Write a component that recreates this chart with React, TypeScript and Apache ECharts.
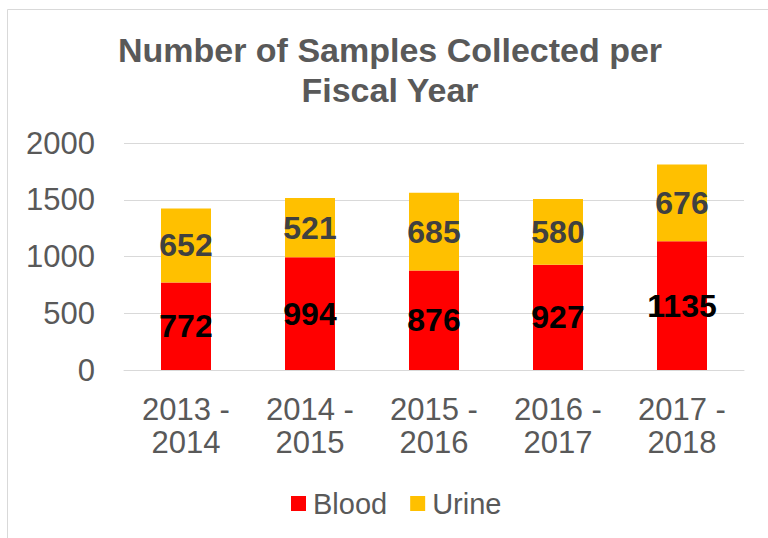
import React, { useEffect, useRef } from "react";
import * as echarts from "echarts";

const categories = ["2013 -\n2014", "2014 -\n2015", "2015 -\n2016", "2016 -\n2017", "2017 -\n2018"];
const bloodValues = [772, 994, 876, 927, 1135];
const urineValues = [652, 521, 685, 580, 676];
const titleText = "Number of Samples Collected per\nFiscal Year";
const FONT = "'Liberation Sans', Arial, sans-serif";

export default function App() {
  const ref = useRef<HTMLDivElement>(null);
  useEffect(() => {
    const chart = echarts.init(ref.current!, null, { renderer: "svg" });
    chart.setOption({
      animation: false,
      backgroundColor: "#ffffff",
      textStyle: { fontFamily: FONT },
      title: {
        text: titleText,
        left: 390,
        top: 30,
        textAlign: "center",
        padding: 0,
        textStyle: {
          fontFamily: FONT,
          fontSize: 34,
          fontWeight: "bold",
          color: "#595959",
          lineHeight: 40,
        },
      },
      graphic: [
        {
          type: "rect",
          shape: { x: 7.5, y: 9.5, width: 800, height: 600 },
          style: { fill: "none", stroke: "#d9d9d9", lineWidth: 1 },
          silent: true,
        },
      ],
      legend: {
        left: 291,
        top: 489,
        padding: 0,
        itemWidth: 15,
        itemHeight: 15,
        itemGap: 23,
        icon: "rect",
        textStyle: { fontFamily: FONT, fontSize: 29, color: "#595959", padding: [0, 0, 0, 2] },
        data: ["Blood", "Urine"],
      },
      grid: { left: 124, right: 24, top: 143, bottom: 168 },
      xAxis: {
        type: "category",
        data: categories,
        axisLine: { lineStyle: { color: "#d9d9d9", width: 1 } },
        axisTick: { show: false },
        axisLabel: {
          fontFamily: FONT,
          fontSize: 31,
          color: "#595959",
          lineHeight: 33,
          margin: 23,
        },
      },
      yAxis: {
        type: "value",
        min: 0,
        max: 2000,
        interval: 500,
        axisLine: { show: false },
        axisTick: { show: false },
        splitLine: { lineStyle: { color: "#d9d9d9", width: 1 } },
        axisLabel: {
          fontFamily: FONT,
          fontSize: 31,
          color: "#595959",
          margin: 29,
          formatter: (v: number) => String(v),
        },
      },
      series: [
        {
          name: "Blood",
          type: "bar",
          stack: "total",
          barWidth: 50,
          data: bloodValues,
          itemStyle: { color: "#ff0000" },
          label: {
            show: true,
            position: "inside",
            fontFamily: FONT,
            fontSize: 32,
            fontWeight: "bold",
            color: "#000000",
          },
        },
        {
          name: "Urine",
          type: "bar",
          stack: "total",
          barWidth: 50,
          data: urineValues,
          itemStyle: { color: "#ffc000" },
          label: {
            show: true,
            position: "inside",
            fontFamily: FONT,
            fontSize: 32,
            fontWeight: "bold",
            color: "#404040",
          },
        },
      ],
    });
    return () => chart.dispose();
  }, []);
  return (
    <div
      ref={ref}
      style={{ position: "fixed", left: 0, top: 0, width: 768, height: 538, background: "#fff" }}
    />
  );
}
